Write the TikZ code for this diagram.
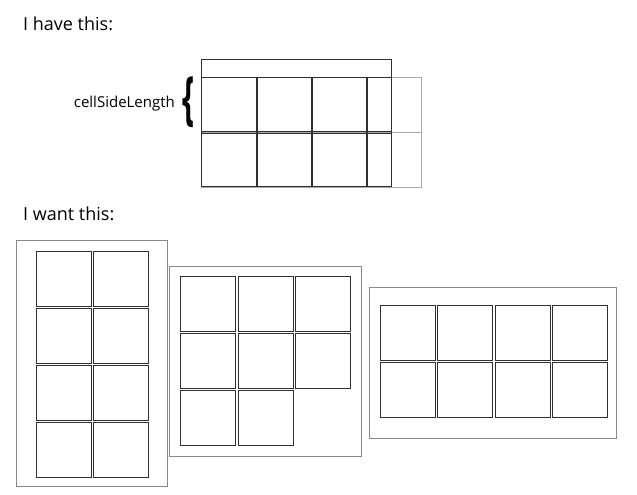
\documentclass[tikz,border=0pt]{standalone}
\usepackage{fontspec}
\setmainfont{Open Sans}
\usepackage{xcolor}
\usetikzlibrary{positioning}

\definecolor{cellline}{HTML}{303030}
\definecolor{overflow}{HTML}{A8A8A8}
\definecolor{frameline}{HTML}{888888}

\begin{document}
\begin{tikzpicture}[x=1pt, y=-1pt,
  heading/.style={anchor=base west, inner sep=0pt, font=\fontsize{18}{20}\selectfont},
  label/.style={anchor=base east, inner sep=0pt, font=\fontsize{15}{17}\selectfont},
  cell/.style={draw=cellline, line width=1pt, anchor=north west, inner sep=0pt,
               minimum width=55pt, minimum height=55pt},
  spill/.style={cell, draw=overflow},
  frame/.style={draw=frameline, line width=1pt},
  holder/.style={draw=cellline, line width=1pt}
]
\useasboundingbox (0,0) rectangle (637,495);

% Current layout
\node[heading] (have) at (23,30.5) {I have this:};

\foreach \r in {0,1} {
  \foreach \c in {0,...,3} {
    \node[spill] (top-\r-\c) at ({201+55*\c},{77+54.5*\r}) {};
  }
}
\begin{scope}
  \clip (201,60) rectangle (391,186);
  \foreach \r in {0,1} {
    \foreach \c in {0,...,3} {
      \draw[holder] (top-\r-\c.north west) rectangle (top-\r-\c.south east);
    }
  }
\end{scope}
\draw[holder] (201,60) rectangle (391,186);

\node[label] (side) at (175,107.5) {cellSideLength};
\node[inner sep=0pt] (brace) at (188,102.5)
  {\resizebox*{12pt}{51pt}{\fontsize{20}{20}\selectfont\bfseries\{}};

% Wanted layouts
\node[heading] (want) at (23,220.5) {I want this:};

% Layout 1: two columns
\draw[frame] (16,240) rectangle (167,486);
\foreach \r in {0,...,3} {
  \foreach \c in {0,1} {
    \node[cell] (a-\r-\c) at ({36+57*\c},{251+57*\r}) {};
  }
}

% Layout 2: three columns
\draw[frame] (169,266) rectangle (361,456);
\foreach \r/\c in {0/0,0/1,0/2,1/0,1/1,1/2,2/0,2/1} {
  \node[cell] (b-\r-\c) at ({180+57.5*\c},{276+57*\r}) {};
}

% Layout 3: four columns
\draw[frame] (369,287) rectangle (616,438);
\foreach \r in {0,1} {
  \foreach \c in {0,...,3} {
    \node[cell] (d-\r-\c) at ({380+57.3*\c},{305+57*\r}) {};
  }
}
\end{tikzpicture}
\end{document}
